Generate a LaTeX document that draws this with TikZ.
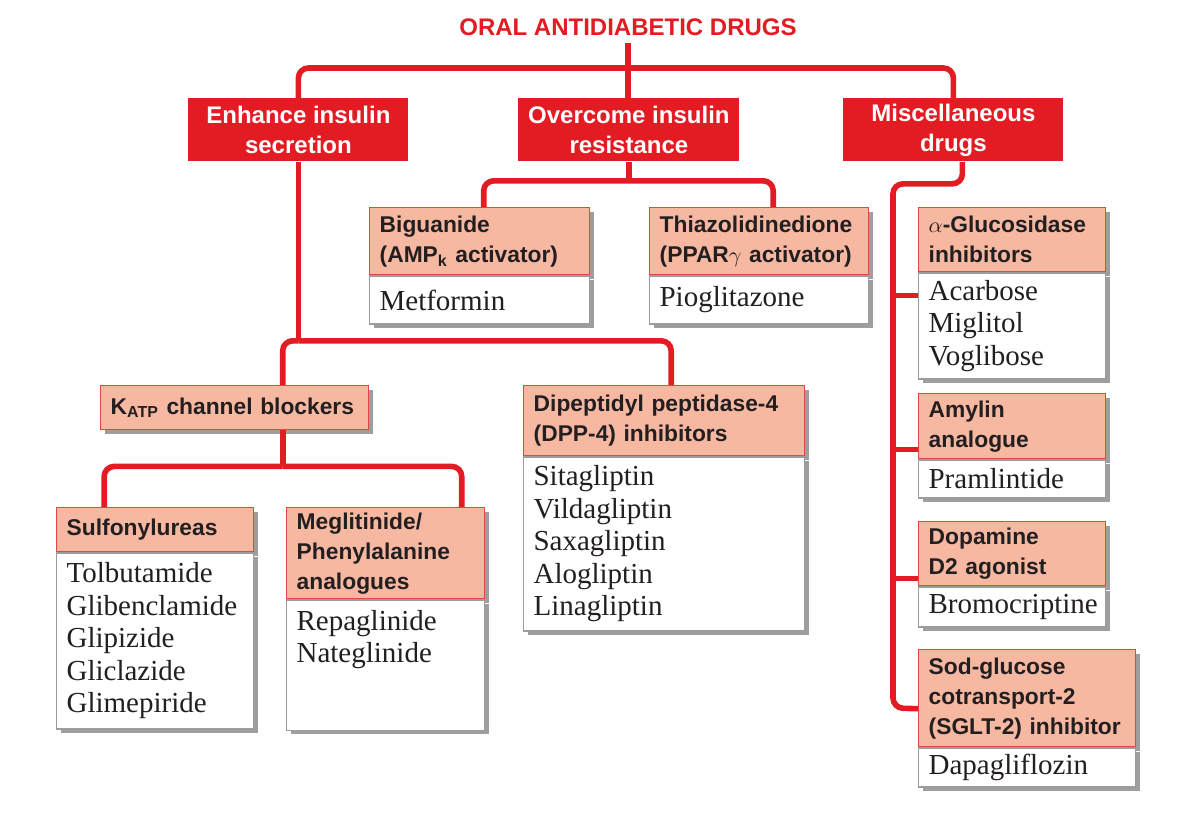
\documentclass[tikz,border=0pt]{standalone}
\usepackage{fontspec}
\setmainfont{Liberation Serif}
\setsansfont{Liberation Sans}
\usepackage{tikz}
\usetikzlibrary{calc,shadows}
\definecolor{drugred}{HTML}{E31B23}
\definecolor{salmon}{HTML}{F7B8A2}
\definecolor{headedge}{HTML}{E2483C}
\definecolor{ink}{HTML}{231F20}
\definecolor{rule}{HTML}{9C9C9C}
\tikzset{
  link/.style={draw=drugred, line width=2.8pt, rounded corners=5pt},
  cat/.style={fill=drugred, text=white, anchor=north west, align=center, inner sep=0pt,
    minimum width=#1, minimum height=31.5pt, font=\sffamily\bfseries\fontsize{12}{15}\selectfont},
  shade/.style={drop shadow={shadow xshift=2pt, shadow yshift=-2pt, fill=black!38, opacity=1}},
  head/.style={draw=headedge, line width=0.7pt, fill=salmon, text=ink, anchor=north west, align=left,
    inner xsep=5pt, inner ysep=1pt, text width=#1, shade,
    font=\sffamily\bfseries\fontsize{11.4}{15}\selectfont},
  body/.style={draw=rule, line width=0.6pt, fill=white, text=ink, anchor=north west, align=left,
    inner xsep=5pt, inner ysep=2pt, text width=#1, shade,
    font=\rmfamily\fontsize{14.5}{16.25}\selectfont},
}
\begin{document}
\begin{tikzpicture}[x=0.5pt,y=-0.5pt]
  \path[fill=white, use as bounding box] (0,0) rectangle (1200,836);
  % top level
  \node[font=\sffamily\bfseries\fontsize{12}{14}\selectfont, text=drugred] (title) at (628,27) {ORAL ANTIDIABETIC DRUGS};
  \node[cat=110pt] (enh) at (188,98) {Enhance insulin\\secretion};
  \node[cat=110.5pt] (over) at (518,98) {Overcome insulin\\resistance};
  \node[cat=110pt] (misc) at (843,98) {Miscellaneous\\drugs};
  % insulin resistance
  \node[head=100pt, minimum height=33.5pt] (bgh) at (369,207) {Biguanide\\(AMP\textsubscript{k} activator)};
  \node[body=100pt, minimum height=24pt] (bgb) at (bgh.south west) {Metformin};
  \node[head=99.5pt, minimum height=33.5pt] (tzh) at (649,207) {Thiazolidinedione\\(PPAR$\gamma$ activator)};
  \node[body=99.5pt, minimum height=24pt] (tzb) at (tzh.south west) {Pioglitazone};
  % insulin secretion
  \node[head=124pt, minimum height=22pt] (katph) at (100,385) {K\textsubscript{ATP} channel blockers};
  \node[head=130.5pt, minimum height=35pt] (dpph) at (523,385) {Dipeptidyl peptidase-4\\(DPP-4) inhibitors};
  \node[body=130.5pt, minimum height=87pt] (dppb) at (dpph.south west) {Sitagliptin\\Vildagliptin\\Saxagliptin\\Alogliptin\\Linagliptin};
  \node[head=88.5pt, minimum height=22pt] (suh) at (56,507) {Sulfonylureas};
  \node[body=88.5pt, minimum height=88pt] (sub) at (suh.south west) {Tolbutamide\\Glibenclamide\\Glipizide\\Gliclazide\\Glimepiride};
  \node[head=89pt, minimum height=45.5pt] (mgh) at (286,507) {Meglitinide/\\Phenylalanine\\analogues};
  \node[body=89pt, inner ysep=5pt, text depth=45pt] (mgb) at (mgh.south west) {Repaglinide\\Nateglinide};
  % miscellaneous
  \node[head=83.5pt, minimum height=32pt] (agh) at (918,207) {$\alpha$-Glucosidase\\inhibitors};
  \node[body=83.5pt, minimum height=53pt] (agb) at (agh.south west) {Acarbose\\Miglitol\\Voglibose};
  \node[head=83.5pt, minimum height=32.5pt] (amh) at (918,393) {Amylin\\analogue};
  \node[body=83.5pt, minimum height=19pt] (amb) at (amh.south west) {Pramlintide};
  \node[head=83.5pt, minimum height=32pt] (dph) at (918,521) {Dopamine\\D2 agonist};
  \node[body=83.5pt, minimum height=20pt] (dpb) at (dph.south west) {Bromocriptine};
  \node[head=98.5pt, minimum height=48.5pt] (sgh) at (918,649) {Sod-glucose\\cotransport-2\\(SGLT-2) inhibitor};
  \node[body=98.5pt, minimum height=19.5pt] (sgb) at (sgh.south west) {Dapagliflozin};

  % connectors
  \draw[link] (title.south) -- (title.south |- over.north);
  \draw[link] (enh.north) -- ++(0,-30) -| (misc.north);
  \draw[link] (over.south) -- ++(0,19) coordinate (ovj);
  \draw[link] (ovj) -| ($(bgh.north)+(4,0)$);
  \draw[link] (ovj) -| ($(tzh.north)+(14,0)$);
  \draw[link] (enh.south) -- ++(0,179) coordinate (enj);
  \draw[link] (enj) -| ($(katph.north)+(48,0)$);
  \draw[link] (enj) -| ($(dpph.north)+(7,0)$);
  \draw[link] ($(katph.south)+(48,0)$) -- ++(0,36) coordinate (kj);
  \draw[link] (kj) -| ($(suh.north)+(-51,0)$);
  \draw[link] (kj) -| ($(mgh.north)+(76,0)$);
  \coordinate (trunk) at (893,708);
  \draw[link] ($(misc.south)+(9,0)$) -- ++(0,22) -| (trunk) -- ($(sgh.west)+(0,10.5)$);
  \coordinate (agj) at ($(agb.north west)+(0,23)$);
  \coordinate (amj) at ($(amh.south west)+(0,-10)$);
  \coordinate (dpj) at ($(dph.south west)+(0,-8)$);
  \draw[link] (trunk |- agj) -- (agj);
  \draw[link] (trunk |- amj) -- (amj);
  \draw[link] (trunk |- dpj) -- (dpj);
\end{tikzpicture}
\end{document}
